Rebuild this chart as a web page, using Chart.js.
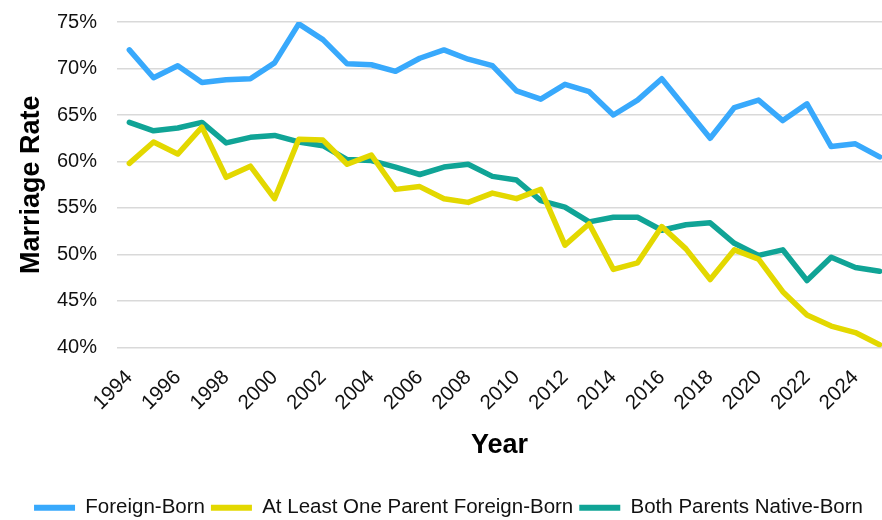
<!DOCTYPE html>
<html>
<head>
<meta charset="utf-8">
<script src="https://cdn.jsdelivr.net/npm/chart.js@4/dist/chart.umd.min.js"></script>
<style>
    html, body { margin: 0; padding: 0; background: #ffffff; }
    #wrap { width: 882px; height: 520px; }
</style>
</head>
<body>
<div id="wrap"><canvas id="chart" width="882" height="520"></canvas></div>
<script>
// years on the x axis
const years = [1994, 1995, 1996, 1997, 1998, 1999, 2000, 2001, 2002, 2003, 2004,
    2005, 2006, 2007, 2008, 2009, 2010, 2011, 2012, 2013, 2014, 2015, 2016,
    2017, 2018, 2019, 2020, 2021, 2022, 2023, 2024, 2025];

// marriage rate in %
const foreignBorn = [72.0, 69.0, 70.3, 68.5, 68.8, 68.9, 70.6, 74.8, 73.1, 70.5, 70.4,
    69.7, 71.1, 72.0, 71.0, 70.3, 67.6, 66.7, 68.3, 67.5, 65.0, 66.6, 68.9,
    65.7, 62.5, 65.8, 66.6, 64.4, 66.2, 61.6, 61.9, 60.5];
const oneParentForeign = [59.8, 62.1, 60.8, 63.7, 58.3, 59.5, 56.0, 62.4, 62.3, 59.7, 60.7,
    57.0, 57.3, 56.0, 55.6, 56.6, 56.0, 57.0, 51.0, 53.3, 48.4, 49.1, 53.0,
    50.6, 47.3, 50.5, 49.5, 46.0, 43.5, 42.3, 41.6, 40.3];
const bothNative = [64.2, 63.3, 63.6, 64.2, 62.0, 62.6, 62.8, 62.1, 61.7, 60.2, 60.1,
    59.4, 58.6, 59.4, 59.7, 58.4, 58.0, 55.8, 55.1, 53.5, 54.0, 54.0, 52.6,
    53.2, 53.4, 51.2, 49.9, 50.5, 47.2, 49.7, 48.6, 48.2];

const xTickYears = [1994, 1996, 1998, 2000, 2002, 2004, 2006, 2008, 2010, 2012,
    2014, 2016, 2018, 2020, 2022, 2024];
const yTicks = [40, 45, 50, 55, 60, 65, 70, 75];

const seriesNames = ["Foreign-Born", "At Least One Parent Foreign-Born", "Both Parents Native-Born"];
const seriesColors = ["#38a9fc", "#e3d800", "#10a496"];

function toPoints(values) {
    return values.map((v, i) => ({ x: years[i], y: v }));
}

const FONT = "'Liberation Sans', Arial, Helvetica, sans-serif";

const ctx = document.getElementById("chart").getContext("2d");
new Chart(ctx, {
    type: "line",
    data: {
        datasets: [foreignBorn, oneParentForeign, bothNative].map((vals, i) => ({
            label: seriesNames[i],
            data: toPoints(vals),
            borderColor: seriesColors[i],
            backgroundColor: seriesColors[i],
            borderWidth: 5.5,
            pointRadius: 0,
            tension: 0,
            borderJoinStyle: "round",
            borderCapStyle: "round"
        }))
    },
    options: {
        responsive: false,
        animation: false,
        layout: { padding: { top: 22, right: 0, bottom: -8, left: 15 } },
        plugins: {
            tooltip: { enabled: false },
            legend: {
                position: "bottom",
                labels: {
                    color: "#111111",
                    font: { family: FONT, size: 20.5 },
                    boxWidth: 41,
                    boxHeight: 6,
                    padding: 6,
                    generateLabels: chart =>
                        Chart.defaults.plugins.legend.labels.generateLabels(chart)
                            .map(l => ({ ...l, lineWidth: 0 }))
                }
            }
        },
        scales: {
            x: {
                type: "linear",
                min: 1993.49,
                max: 2025.1,
                afterBuildTicks: axis => {
                    axis.ticks = xTickYears.map(v => ({ value: v }));
                },
                afterFit: axis => {
                    axis.paddingLeft = 0;
                    axis.paddingRight = 0;
                },
                grid: { display: false },
                border: { display: false },
                ticks: {
                    color: "#111111",
                    font: { family: FONT, size: 20.5 },
                    minRotation: 45,
                    maxRotation: 45,
                    padding: 10,
                    callback: v => String(v)
                },
                title: {
                    display: true,
                    text: "Year",
                    color: "#000000",
                    font: { family: FONT, size: 27, weight: "bold" },
                    padding: { top: 4, bottom: 30 }
                }
            },
            y: {
                min: 40,
                max: 75,
                afterBuildTicks: axis => {
                    axis.ticks = yTicks.map(v => ({ value: v }));
                },
                afterFit: axis => {
                    axis.paddingTop = 0;
                    axis.paddingBottom = 0;
                    axis.width = 102;
                },
                grid: { color: "#d9d9d9", lineWidth: 1.5, drawTicks: false },
                border: { display: false },
                ticks: {
                    color: "#111111",
                    font: { family: FONT, size: 20 },
                    padding: 20,
                    callback: v => v + "%"
                },
                title: {
                    display: true,
                    text: "Marriage Rate",
                    color: "#000000",
                    font: { family: FONT, size: 27, weight: "bold" },
                    padding: { top: 0, bottom: 0 }
                }
            }
        }
    }
});
</script>
</body>
</html>
